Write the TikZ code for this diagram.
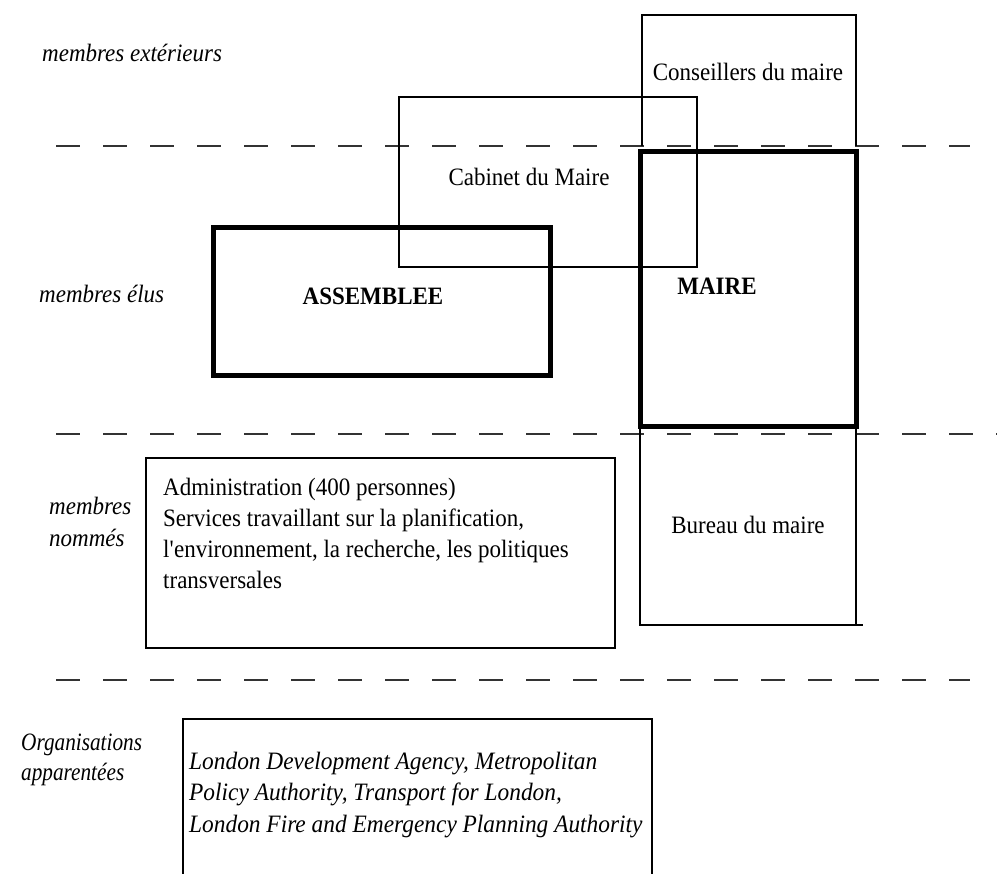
\documentclass[tikz,border=0pt]{standalone}
\usepackage{fontspec}
\setmainfont{Liberation Serif}[FakeStretch=0.92]
\newcommand{\straightapos}{\XeTeXglyph\XeTeXcharglyph"27\relax}
\begin{document}
\begin{tikzpicture}[x=1pt,y=-1pt,
  thin box/.style={draw=black,line width=1.5pt},
  thick box/.style={draw=black,line width=5pt},
  sep line/.style={draw=black!80,line width=1.8pt,dash pattern=on 24pt off 23pt},
  txt/.style={font=\fontsize{25}{31}\selectfont,inner sep=0pt,anchor=base},
  lbl/.style={txt,font=\fontsize{25}{30}\selectfont\itshape,anchor=base west},
  bold txt/.style={txt,font=\fontsize{25}{31}\selectfont\bfseries}]
\useasboundingbox[fill=white] (0,0) rectangle (997,874);
% separators
\coordinate (s1a) at (56,146); \coordinate (s1b) at (970,146);
\coordinate (s2a) at (56,434); \coordinate (s2b) at (997,434);
\coordinate (s3a) at (56,680); \coordinate (s3b) at (970,680);
\draw[sep line] (s1a) -- (s1b);
\draw[sep line] (s2a) -- (s2b);
\draw[sep line] (s3a) -- (s3b);
% Conseillers (open bottom)
\coordinate (c1) at (642,146); \coordinate (c2) at (642,15);
\coordinate (c3) at (856,15); \coordinate (c4) at (856,146);
\draw[thin box] (c1) -- (c2) -- (c3) -- (c4);
\node[txt] (cons) at (748,81) {Conseillers du maire};
% Cabinet
\draw[thin box] (399,97) rectangle (697,267);
\node[txt] (cab) at (529,186) {Cabinet du Maire};
% Assemblee
\draw[thick box] (213,228) rectangle (550,376);
\node[bold txt] (ass) at (373,305) {ASSEMBLEE};
% Maire
\draw[thick box] (640,152) rectangle (856,427);
\node[bold txt] (maire) at (717,295) {MAIRE};
% Bureau
\coordinate (b1) at (640,427); \coordinate (b2) at (640,625);
\coordinate (b3) at (863,625); \coordinate (b4) at (856,427); \coordinate (b5) at (856,625);
\draw[thin box] (b1) -- (b2) -- (b3);
\draw[thin box] (b4) -- (b5);
\node[txt] (bur) at (748,534) {Bureau du maire};
% Administration
\draw[thin box] (146,458) rectangle (615,648);
\node[txt,anchor=base west,align=left] (adm) at (163,589) {Administration (400 personnes)\\Services travaillant sur la planification,\\l\straightapos environnement, la recherche, les politiques\\transversales};
% Organisations
\coordinate (o1) at (183,880); \coordinate (o2) at (183,719);
\coordinate (o3) at (652,719); \coordinate (o4) at (652,880);
\draw[thin box] (o1) -- (o2) -- (o3) -- (o4);
\node[lbl,align=left,font=\fontsize{25}{31.5}\selectfont\addfontfeatures{FakeStretch=0.935}\itshape] (org) at (189,832) {London Development Agency, Metropolitan\\Policy Authority, Transport for London,\\London Fire and Emergency Planning Authority};
% left labels
\node[lbl] (l1) at (42,62) {membres extérieurs};
\node[lbl] (l2) at (39,303) {membres élus};
\node[lbl,align=left,font=\fontsize{25}{32}\selectfont\itshape] (l3) at (49,547) {membres\\nommés};
\node[lbl,align=left,font=\fontsize{25}{30}\selectfont\addfontfeatures{FakeStretch=0.85}\itshape] (l4) at (21,780) {Organisations\\apparentées};
\end{tikzpicture}
\end{document}
